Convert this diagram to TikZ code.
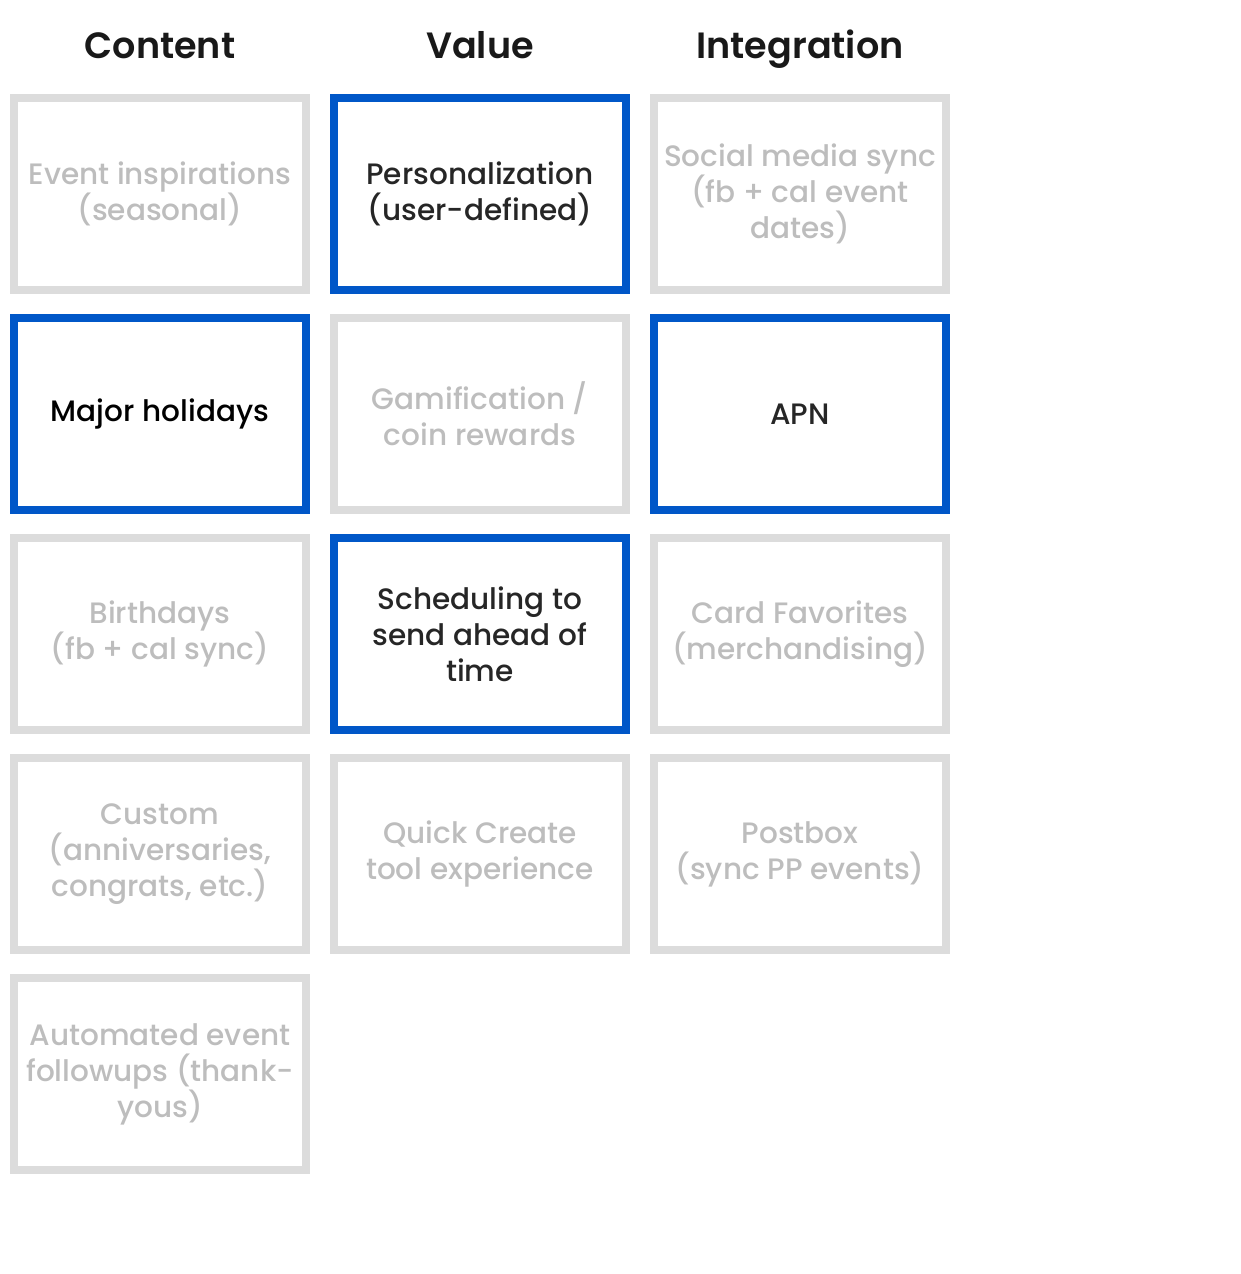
\documentclass[tikz,border=0pt]{standalone}
\usepackage{fontspec}
\setmainfont{Poppins}[UprightFont=* Medium, BoldFont=* SemiBold]
\usepackage{xcolor}
\usetikzlibrary{positioning}
\definecolor{offgray}{HTML}{DCDCDC}
\definecolor{offtext}{HTML}{BDBDBD}
\definecolor{onblue}{HTML}{0057C8}
\definecolor{ontext}{HTML}{262626}

\begin{document}
\begin{tikzpicture}[
    cell/.style={draw, line width=0.2cm, minimum width=7.3cm, minimum height=4.8cm, align=center, font=\fontsize{21}{25.6}\selectfont, inner sep=0pt},
    off/.style={cell, draw=offgray, text=offtext},
    on/.style={cell, draw=onblue, text=ontext},
    head/.style={font=\fontsize{26}{30}\selectfont\bfseries, text=black!90, text height=0.62cm, text depth=0.18cm}
]
  \useasboundingbox (0,0) rectangle (31,-31.85);

  % column headers
  \node[head] (hcontent) at (4,-1.25) {Content};
  \node[head] (hvalue) at (12,-1.25) {Value};
  \node[head] (hinteg) at (20,-1.25) {Integration};

  % Content column
  \node[off] (inspo) at (4,-4.85) {Event inspirations\\(seasonal)};
  \node[on, text=black] (holidays) at (4,-10.35) {Major holidays};
  \node[off] (bdays) at (4,-15.85) {Birthdays\\(fb + cal sync)};
  \node[off] (custom) at (4,-21.35) {Custom\\(anniversaries,\\congrats, etc.)};
  \node[off] (followups) at (4,-26.85) {Automated event\\followups (thank-\\yous)};

  % Value column
  \node[on] (personal) at (12,-4.85) {Personalization\\(user-defined)};
  \node[off] (gamify) at (12,-10.35) {Gamification /\\coin rewards};
  \node[on] (schedule) at (12,-15.85) {Scheduling to\\send ahead of\\time};
  \node[off] (quick) at (12,-21.35) {Quick Create\\tool experience};

  % Integration column
  \node[off] (social) at (20,-4.85) {Social media sync\\(fb + cal event\\dates)};
  \node[on] (apn) at (20,-10.35) {APN};
  \node[off] (favs) at (20,-15.85) {Card Favorites\\(merchandising)};
  \node[off] (postbox) at (20,-21.35) {Postbox\\(sync PP events)};
\end{tikzpicture}
\end{document}
